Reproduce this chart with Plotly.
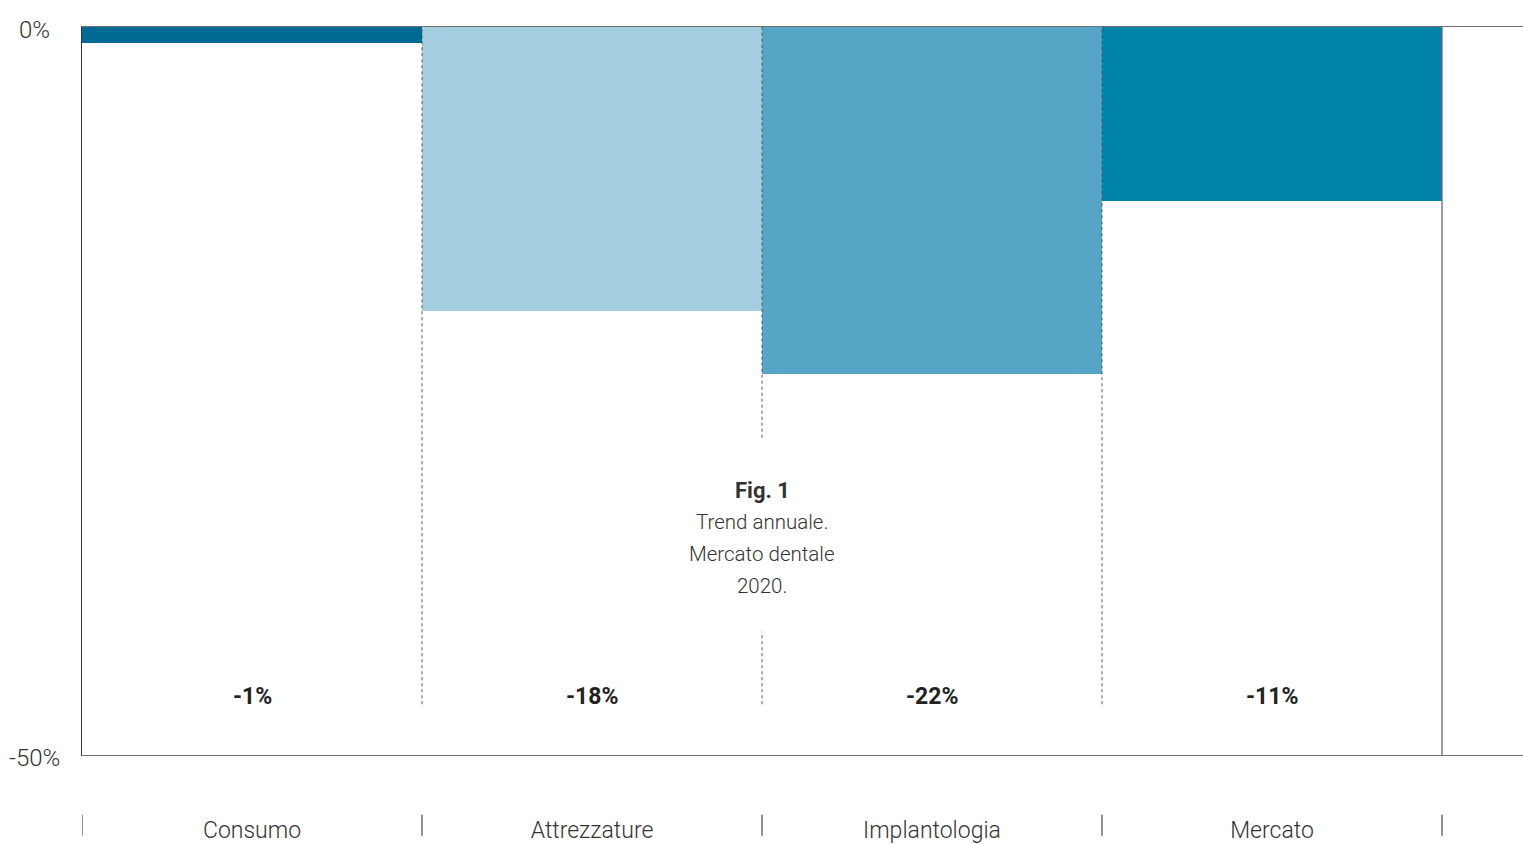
import plotly.graph_objects as go

categories = ["Consumo", "Attrezzature", "Implantologia", "Mercato"]
values = [-1, -18, -22, -11]
value_labels = ["-1%", "-18%", "-22%", "-11%"]
colors = ["#006994", "#a5cde0", "#57a5c6", "#0084aa"]
y_tick_vals = [0, -46.15]
y_tick_text = ["0%", "-50%"]
caption_lines = ["<b>Fig. 1</b>", "Trend annuale.", "Mercato dentale", "2020."]

FONT = "Roboto, 'Liberation Sans Narrow', 'DejaVu Sans Condensed', sans-serif"
TXT = "#333333"

x_pos = [i + 0.5 for i in range(len(categories))]

fig = go.Figure()
fig.add_trace(go.Bar(
    x=x_pos, y=values, width=1.0,
    marker=dict(color=colors, line=dict(width=0)),
    hoverinfo="skip", showlegend=False,
))

shapes = []
# dotted separators between categories
for b in range(1, len(categories)):
    if b == 2:
        segs = [(0.4358, 1.0), (0.0697, 0.1694)]
    else:
        segs = [(0.0697, 1.0)]
    for y0, y1 in segs:
        shapes.append(dict(type="line", xref="x", yref="paper", x0=b, x1=b, y0=y0, y1=y1,
                           line=dict(color="#555555", width=1, dash="dot"), layer="above"))
# solid end line
shapes.append(dict(type="line", xref="x", yref="paper", x0=len(categories), x1=len(categories),
                   y0=0, y1=1, line=dict(color="#6b6b6b", width=1.3), layer="above"))
# tick marks below the axis
for b in range(0, len(categories) + 1):
    shapes.append(dict(type="line", xref="x", yref="paper", x0=b, x1=b, y0=-0.082, y1=-0.111,
                       line=dict(color="#555555", width=1.3)))

annotations = []
for xp, lab in zip(x_pos, value_labels):
    annotations.append(dict(x=xp, y=0.0833, xref="x", yref="paper", text=f"<b>{lab}</b>",
                            showarrow=False, font=dict(family=FONT, size=23, color="#222222"),
                            xanchor="center", yanchor="middle", yshift=-2))
for i, line in enumerate(caption_lines):
    annotations.append(dict(x=2, y=0.366 - i * 0.0437, xref="x", yref="paper", text=line,
                            showarrow=False,
                            font=dict(family=FONT, size=22 if i == 0 else 20.5, color=TXT,
                                      weight=700 if i == 0 else 300),
                            xanchor="center", yanchor="middle", yshift=-2))
for yv, yt in zip(y_tick_vals, y_tick_text):
    annotations.append(dict(x=-0.033, y=yv, xref="paper", yref="y", text=yt, showarrow=False,
                            font=dict(family=FONT, size=24, color=TXT, weight=300),
                            xanchor="center", yanchor="middle", yshift=-3))

fig.update_layout(
    width=1523, height=844,
    margin=dict(l=82, r=0, t=27, b=85),
    paper_bgcolor="white", plot_bgcolor="white",
    bargap=0,
    shapes=shapes, annotations=annotations,
    xaxis=dict(range=[0, 1441 / 340], tickvals=x_pos, ticktext=categories,
               showgrid=False, zeroline=False, showline=True, mirror=True,
               linecolor="#707070", linewidth=1.3, ticks="", ticklabelstandoff=54,
               tickfont=dict(family=FONT, size=23, color=TXT, weight=300), fixedrange=True),
    yaxis=dict(range=[y_tick_vals[1], 0], showticklabels=False, showgrid=False, zeroline=False,
               showline=True, linecolor="#333333", linewidth=1.3, ticks="", fixedrange=True),
)

fig.write_html("out.html")
